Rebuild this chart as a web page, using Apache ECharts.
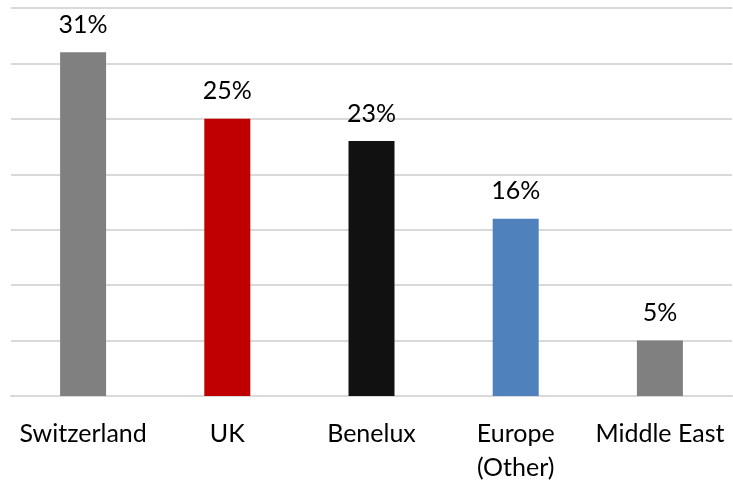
<!DOCTYPE html>
<html><head><meta charset="utf-8">
<script src="https://cdn.jsdelivr.net/npm/echarts@6/dist/echarts.min.js"></script>
<style>html,body{margin:0;padding:0;background:#fff}#c{width:733px;height:485px}</style>
</head><body><div id="c"></div>
<script>
var categories = ['Switzerland', 'UK', 'Benelux', 'Europe\n(Other)', 'Middle East'];
var values = [31, 25, 23, 16, 5];
var barColors = ['#808080', '#C00000', '#111111', '#4F81BD', '#808080'];
var chart = echarts.init(document.getElementById('c'));
chart.setOption({
  animation: false,
  grid: {left: 11, right: 1, top: 8, bottom: 89, containLabel: false},
  xAxis: {
    type: 'category', data: categories,
    axisLine: {lineStyle: {color: '#d9d9d9', width: 2}},
    axisTick: {show: false},
    axisLabel: {color: '#000', fontFamily: 'Lato', fontSize: 25, margin: 21, lineHeight: 34, interval: 0}
  },
  yAxis: {
    type: 'value', min: 0, max: 35, interval: 5,
    axisLabel: {show: false}, axisLine: {show: false}, axisTick: {show: false},
    splitLine: {lineStyle: {color: '#d9d9d9', width: 2}}
  },
  series: [{
    type: 'bar', barWidth: 46,
    data: values.map(function(v, i){ return {value: v, itemStyle: {color: barColors[i]}}; }),
    label: {show: true, position: 'top', distance: 15, formatter: '{c}%', color: '#000', fontFamily: 'Lato', fontSize: 25}
  }]
});
</script></body></html>
